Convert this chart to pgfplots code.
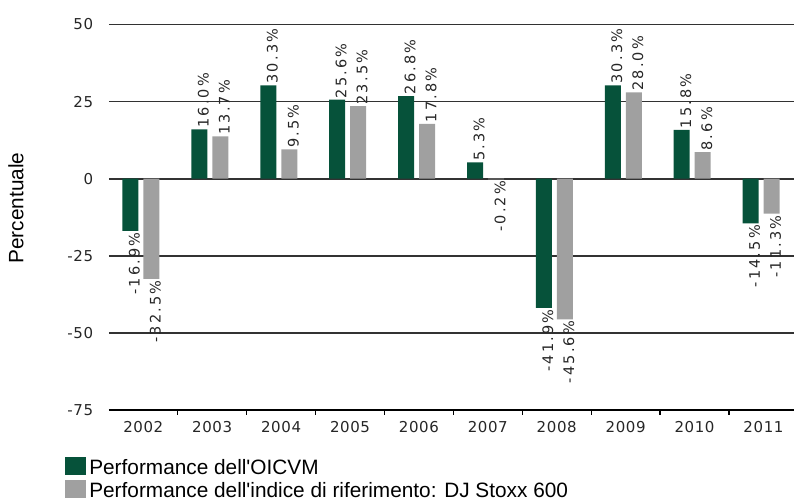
\documentclass[border=0pt]{standalone}
\usepackage{pgfplots}
\pgfplotsset{compat=1.18}
\usepackage{fontspec}
\setmainfont{Liberation Sans}
\newfontfamily\tickfont[LetterSpace=4]{DejaVu Sans}
\newfontfamily\valfont[LetterSpace=15]{DejaVu Sans}
\definecolor{fundgreen}{RGB}{6,82,58}
\definecolor{idxgray}{RGB}{160,160,160}
\definecolor{gridgray}{RGB}{50,50,50}
\pgfkeys{/pgf/number format/assume math mode=true}

\begin{document}
\begin{tikzpicture}
\useasboundingbox (-108.8pt,-92pt) rectangle (685.2pt,410pt);
\begin{axis}[
  at={(0pt,0pt)}, anchor=south west,
  scale only axis, width=689.1pt, height=385.5pt,
  xmin=-0.5, xmax=9.5, ymin=-75, ymax=50,
  ybar, bar width=16pt,
  clip=false,
  axis x line*=bottom, axis y line*=left,
  y axis line style={draw=none},
  x axis line style={black, line width=1.3pt, -},
  xtick={0,...,9},
  xticklabels={2002,2003,2004,2005,2006,2007,2008,2009,2010,2011},
  major tick length=0pt,
  major x tick style={draw=none},
  minor xtick={0.5,1.5,...,8.5},
  minor x tick style={black, line width=1.3pt},
  minor tick length=5pt,
  tick align=outside,
  ytick={-75,-50,-25,0,25,50},
  major y tick style={draw=none},
  ymajorgrids, grid style={gridgray, line width=1.8pt},
  ticklabel style={font=\tickfont\fontsize{15}{18}\selectfont, text=black!85},
  xticklabel style={inner sep=0pt, anchor=north, yshift=-11pt},
  yticklabel style={inner sep=0pt, anchor=east, xshift=-15.5pt},
  ylabel={Percentuale},
  ylabel style={at={(rel axis cs:-0.1347,0.524)}, anchor=center, rotate=0, font=\fontsize{20.8}{24}\selectfont},
  point meta=y,
  nodes near coords={\pgfmathprintnumber[fixed,fixed zerofill,precision=1]{\pgfplotspointmeta}\%},
  visualization depends on=rawy \as \rawy,
  every node near coord/.append style={font=\valfont\fontsize{14.5}{17}\selectfont, text=black!85, xshift=4pt, rotate=90, inner sep=1.5pt, anchor={\ifdim\rawy pt<0pt east\else west\fi}},
  legend image code/.code={\fill[#1, draw=none] (0pt,-6pt) rectangle (21pt,12pt);},
  legend cell align=left,
  legend style={at={(rel axis cs:0,0)}, anchor=north west, xshift=-43.8pt, yshift=-46.7pt,
    draw=none, fill=none, inner sep=0pt, outer sep=0pt, row sep=1.7pt, column sep=3.3pt,
    nodes={inner sep=0pt, text height=15.5pt, text depth=4.5pt, font=\fontsize{20.8}{24}\selectfont}},
]
\addplot[fill=fundgreen, draw=none, bar shift=-12.8pt] coordinates {
  (0,-16.9) (1,16.0) (2,30.3) (3,25.6) (4,26.8) (5,5.3) (6,-41.9) (7,30.3) (8,15.8) (9,-14.5)};
\addlegendentry{Performance dell\textquotesingle OICVM}
\addplot[fill=idxgray, draw=none, bar shift=8.2pt] coordinates {
  (0,-32.5) (1,13.7) (2,9.5) (3,23.5) (4,17.8) (5,-0.2) (6,-45.6) (7,28.0) (8,8.6) (9,-11.3)};
\addlegendentry{Performance dell\textquotesingle indice di riferimento: DJ Stoxx 600}
\end{axis}
\end{tikzpicture}
\end{document}
